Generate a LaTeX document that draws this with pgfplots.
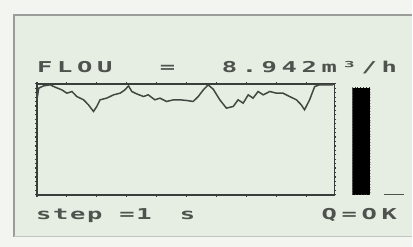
\documentclass[border=0pt]{standalone}
\usepackage{pgfplots}
\pgfplotsset{compat=1.18}
\usepackage{fontspec}
\newfontfamily\lcdA[LetterSpace=31,FakeStretch=1.7]{DejaVu Sans Mono Bold}
\newfontfamily\lcdB[LetterSpace=11,FakeStretch=1.7]{DejaVu Sans Mono Bold}
\definecolor{outerbg}{HTML}{F3F5F1}
\definecolor{panel}{HTML}{E6EEE4}
\definecolor{lcdtext}{HTML}{4E534E}
\definecolor{lcdline}{HTML}{3A3E3A}
\definecolor{framegray}{HTML}{9A9E9A}
\begin{document}
\begin{tikzpicture}[x=1pt,y=1pt]
\fill[outerbg] (0,0) rectangle (413,247);
\fill[panel] (14,10) rectangle (413,232);
\draw[framegray,line width=1.4pt] (14,10) -- (14,232) -- (413,232);
\draw[framegray!60,line width=0.8pt] (14,10) -- (413,10);
% title
\node[anchor=base west,inner sep=0,text=lcdtext,font=\fontsize{15}{15}\lcdA] at (37,174) {FLOU};
\node[anchor=base west,inner sep=0,text=lcdtext,font=\fontsize{15}{15}\lcdA] at (160,174) {=};
\node[anchor=base west,inner sep=0,text=lcdtext,font=\fontsize{15}{15}\lcdA] at (222,174) {8.942m³/h};
% bottom texts
\node[anchor=base west,inner sep=0,text=lcdtext,font=\fontsize{15}{15}\lcdB] at (36,27) {step =1};
\node[anchor=base west,inner sep=0,text=lcdtext,font=\fontsize{15}{15}\lcdB] at (180,27) {s};
\node[anchor=base west,inner sep=0,text=lcdtext,font=\fontsize{15}{15}\lcdA] at (322,27) {Q=OK};
\draw[lcdtext,line width=1.2pt] (385,52) -- (405,52);
% trend plot
\begin{axis}[
  at={(37pt,52pt)}, anchor=south west,
  scale only axis, width=298pt, height=111pt,
  xmin=0, xmax=99.4, ymin=0, ymax=10,
  axis line style={lcdline,line width=1.8pt},
  xtick={0,10,...,90}, ytick={0,0.4,...,10},
  xticklabels={}, yticklabels={},
  tick align=outside, xtick pos=both, ytick pos=both,
  major tick length=2pt,
  every tick/.style={lcdline,line width=1.2pt},
  clip=false,
]
\addplot[lcdtext!85!black, line width=1.5pt, mark=none] coordinates {
(0,8.56) (0.6,9.61) (2.2,9.82) (4.4,9.91) (6.1,9.70) (8.3,9.46) (10,9.16)
(11.7,9.31) (13.3,8.86) (15.6,8.56) (17.2,8.11) (18.9,7.51) (20,7.96)
(21.1,8.56) (23.3,8.71) (25.6,9.01) (27.8,9.16) (29.4,9.46) (30.6,9.82)
(31.7,9.31) (33.3,9.10) (35.6,8.86) (37.2,9.01) (39.4,8.56) (41.1,8.71)
(43.3,8.41) (45.6,8.56) (47.8,8.56) (50,8.50) (52.2,8.41) (53.9,8.86)
(55.6,9.46) (57.2,9.91) (58.9,9.52) (61.1,8.56) (63.3,7.81) (65.6,7.96)
(67.2,8.56) (68.9,8.26) (70.6,9.01) (72.2,8.71) (73.9,9.31) (75.6,9.01)
(77.8,9.31) (80,9.16) (82.2,9.16) (84.4,8.86) (86.7,8.56) (88.3,8.11)
(89.4,7.66) (91.1,8.56) (92.8,9.76) (94.4,9.91) (98.9,9.91)
};
\end{axis}
% level bar
\begin{axis}[
  at={(353pt,52pt)}, anchor=south west,
  scale only axis, width=18pt, height=111pt,
  xmin=0.5, xmax=1.5, ymin=0, ymax=10,
  hide axis,
]
\addplot[ybar, bar width=18pt, fill=black, draw=black!80, dotted, line width=0.8pt] coordinates {(1,9.64)};
\end{axis}
\end{tikzpicture}
\end{document}
